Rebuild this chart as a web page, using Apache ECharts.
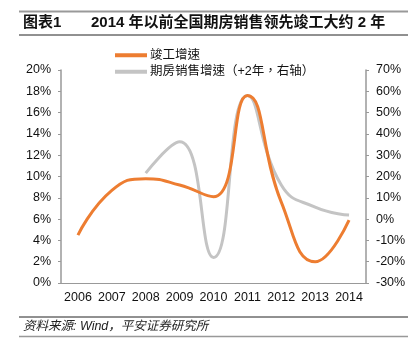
<!DOCTYPE html>
<html>
<head>
<meta charset="utf-8">
<script src="https://cdn.jsdelivr.net/npm/echarts@6/dist/echarts.min.js"></script>
<style>html,body{margin:0;padding:0;background:#fff;}#c{width:419px;height:361px;}</style>
</head>
<body>
<div id="c"></div>
<script>
const categories = ['2006','2007','2008','2009','2010','2011','2012','2013','2014'];
const completionGrowth = [4.5, 8.7, 9.8, 9.2, 8.1, 17.6, 7.6, 2.0, 5.9];
const presalesGrowth = [null, null, 21.6, 36.3, -18, 58, 16, 5.6, 1.9];
const seriesNames = ['竣工增速', '期房销售增速（+2年，右轴）'];
const titleText = '2014 年以前全国期房销售领先竣工大约 2 年';
const sourceText = '资料来源: Wind，平安证券研究所';

const FONT = '"Liberation Sans", "Noto Sans CJK SC", sans-serif';
const LEGEND_FONT = '"Liberation Sans", "Noto Sans CJK TC", sans-serif';
const chart = echarts.init(document.getElementById('c'), null, {renderer: 'canvas'});
chart.setOption({
  animation: false,
  backgroundColor: '#fff',
  textStyle: {fontFamily: FONT},
  graphic: [
    {type: 'line', shape: {x1: 19, y1: 11.5, x2: 408, y2: 11.5}, style: {stroke: '#999', lineWidth: 2}},
    {type: 'text', left: 23, top: 15, style: {text: '图表1', font: 'bold 15px ' + FONT, fill: '#111'}},
    {type: 'text', left: 91, top: 15, style: {text: titleText, font: 'bold 15px ' + FONT, fill: '#111'}},
    {type: 'line', shape: {x1: 19, y1: 35, x2: 408, y2: 35}, style: {stroke: '#222', lineWidth: 1}},
    {type: 'line', shape: {x1: 19, y1: 317, x2: 408, y2: 317}, style: {stroke: '#222', lineWidth: 1}},
    {type: 'text', left: 23, top: 320, style: {text: sourceText, font: 'italic 12.5px ' + FONT, fill: '#222'}},
    {type: 'line', shape: {x1: 19, y1: 336.5, x2: 408, y2: 336.5}, style: {stroke: '#999', lineWidth: 1.5}}
  ],
  legend: {
    orient: 'vertical',
    left: 115,
    top: 49,
    padding: 0,
    itemWidth: 32,
    itemHeight: 4,
    itemGap: 4,
    icon: 'rect',
    textStyle: {fontSize: 12.5, color: '#111', fontFamily: LEGEND_FONT, padding: [0,0,0,-2]},
    data: seriesNames
  },
  grid: {left: 61, right: 53, top: 70, bottom: 78},
  xAxis: {
    type: 'category',
    data: categories,
    boundaryGap: true,
    axisLine: {lineStyle: {color: '#999', width: 1}},
    axisTick: {inside: true, length: 4, lineStyle: {color: '#999'}},
    axisLabel: {interval: 0, color: '#111', fontSize: 12.5, margin: 8, fontFamily: FONT}
  },
  yAxis: [
    {
      type: 'value', min: 0, max: 20, interval: 2,
      axisLine: {show: true, lineStyle: {color: '#999', width: 1.5}},
      axisTick: {show: true, length: 3, lineStyle: {color: '#999'}},
      splitLine: {show: false},
      axisLabel: {formatter: '{value}%', color: '#111', fontSize: 12.5, margin: 10, fontFamily: FONT}
    },
    {
      type: 'value', min: -30, max: 70, interval: 10, position: 'right',
      axisLine: {show: true, lineStyle: {color: '#999', width: 1.5}},
      axisTick: {show: true, length: 3, lineStyle: {color: '#999'}},
      splitLine: {show: false},
      axisLabel: {formatter: '{value}%', color: '#111', fontSize: 12.5, margin: 10, fontFamily: FONT}
    }
  ],
  series: [
    {
      name: seriesNames[0], type: 'line', yAxisIndex: 0, data: completionGrowth,
      smooth: 0.5, showSymbol: false, symbol: 'none',
      itemStyle: {color: '#ED7D31'},
      lineStyle: {color: '#ED7D31', width: 3}, z: 3
    },
    {
      name: seriesNames[1], type: 'line', yAxisIndex: 1, data: presalesGrowth,
      smooth: 0.5, showSymbol: false, symbol: 'none',
      itemStyle: {color: '#C4C4C4'},
      lineStyle: {color: '#C4C4C4', width: 3}, z: 2
    }
  ]
});
</script>
</body>
</html>
